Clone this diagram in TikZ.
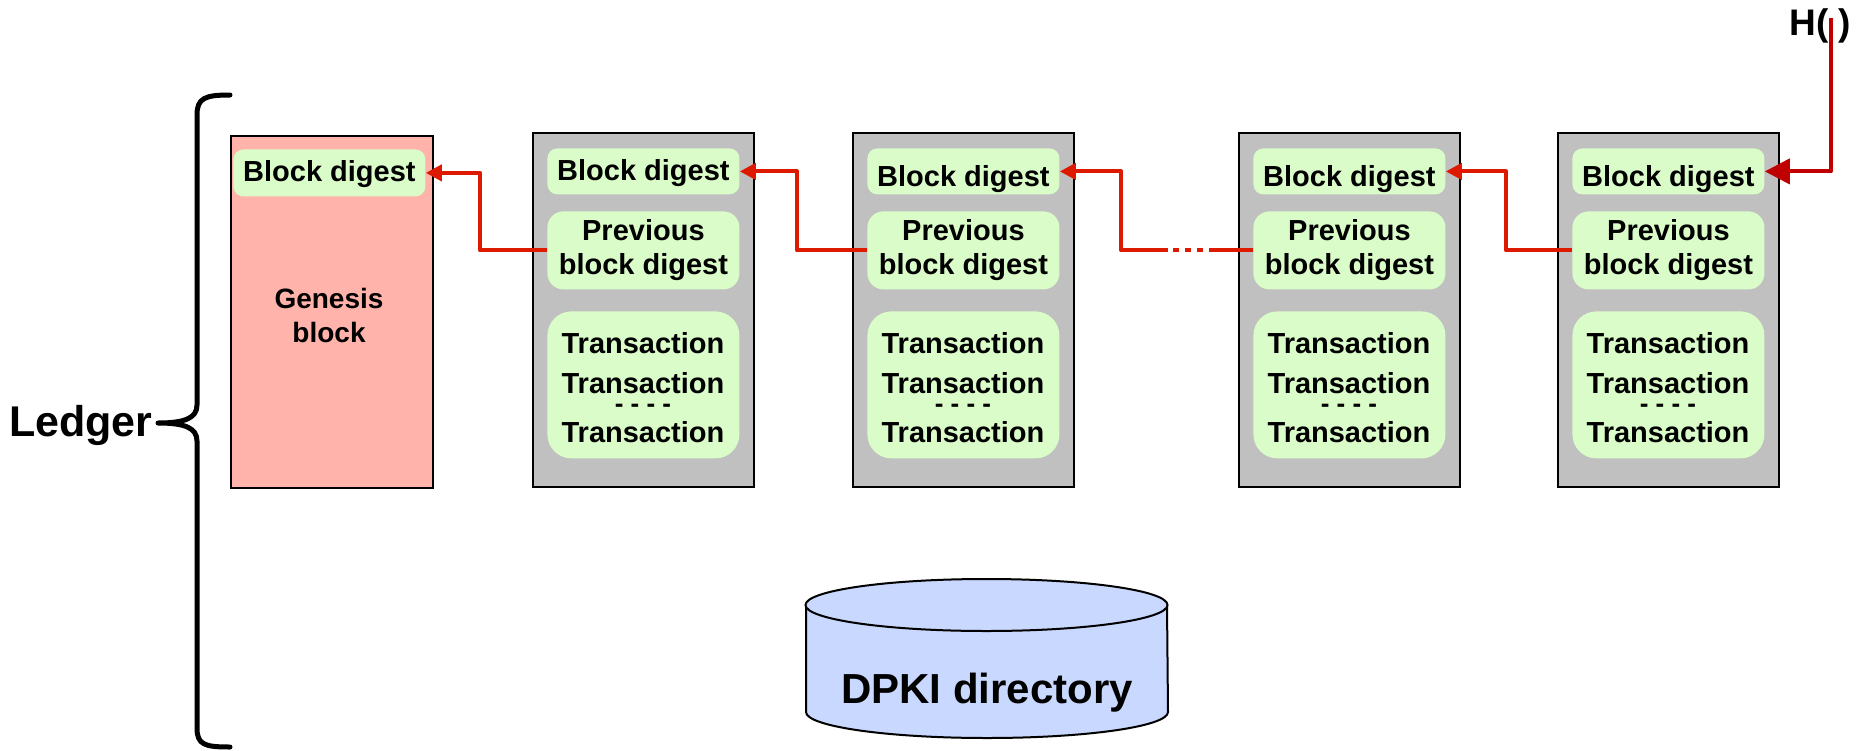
\documentclass[tikz,border=0pt]{standalone}
\usepackage{fontspec}
\setmainfont{Liberation Sans}
\usetikzlibrary{arrows.meta,calc}
\definecolor{graybg}{HTML}{C0C0C0}
\definecolor{pinkbg}{HTML}{FFB3AA}
\definecolor{greenbg}{HTML}{DAFCC8}
\definecolor{bluebg}{HTML}{C9D8FE}
\definecolor{arrred}{HTML}{DD1A00}
\definecolor{darkred}{HTML}{C00000}
% #1 name, #2 left edge, #3 text height of the digest text (sets its vertical place)
\newcommand{\mkblock}[3]{%
  \node[blockbox] (#1) at (#2,132) {};
  \node[digbox, text height=#3, text depth=0pt] (#1d) at (#2+15,148) {Block digest};
  \node[prevbox] (#1p) at (#2+15,211) {Previous\\block digest};
  \node[transbox] (#1t) at (#2+15,311) {};
  \node[txt] (#1ta) at (#2+111,353) {Transaction};
  \node[txt] (#1tb) at (#2+111,393) {Transaction};
  \node[txt, font=\bfseries\fontsize{13}{15}\selectfont] (#1tc) at (#2+111,412) {- - - -};
  \node[txt] (#1td) at (#2+111,442) {Transaction};
}
\begin{document}
\begin{tikzpicture}[x=0.5pt,y=-0.5pt,
  font=\bfseries\fontsize{14.5}{17}\selectfont,
  blockbox/.style={draw=black, line width=1pt, fill=graybg, inner sep=0pt,
    anchor=north west, minimum width=110.5pt, minimum height=177pt},
  genbox/.style={blockbox, fill=pinkbg, minimum width=101pt, minimum height=176pt},
  digbox/.style={fill=greenbg, rounded corners=5pt, inner sep=0pt, anchor=north west,
    minimum width=96pt, minimum height=23pt},
  prevbox/.style={digbox, minimum height=39pt, rounded corners=8pt, align=center},
  transbox/.style={digbox, minimum height=73.5pt, rounded corners=12pt},
  txt/.style={inner sep=0pt, anchor=base},
  redline/.style={draw=arrred, line width=2pt, line join=round},
  redarrow/.style={redline, -{Triangle[length=8pt,width=8pt]}},
  harrow/.style={draw=darkred, line width=2pt, line join=round, -{Triangle[length=12.5pt,width=12.5pt]}},
  bracestyle/.style={draw=black, line width=2.5pt, line cap=round, line join=round}
]
\useasboundingbox (0,0) rectangle (1864,750);

% Genesis block
\node[genbox] (g) at (230,135) {};
\node[digbox, minimum height=23.5pt, text height=8.6pt, text depth=0pt] (gd) at (233,149) {Block digest};
\node[align=center, inner sep=0pt, font=\bfseries\fontsize{14}{17}\selectfont] (gt) at (329,315) {Genesis\\block};

% Blocks
\mkblock{b2}{532}{9.4pt}
\mkblock{b3}{852}{14.6pt}
\mkblock{b4}{1238}{14.6pt}
\mkblock{b5}{1557}{14.6pt}

% Connectors
\draw[redarrow] (b2p.west) -- ++(-67,0) |- (gd.east);
\draw[redarrow] (b3p.west) -- ++(-70,0) |- (b2d.east);
\draw[redline] (b4p.west) -- ++(-38,0) coordinate (k1);
\draw[redline, dash pattern=on 3pt off 3pt] (k1) -- ++(-47,0) coordinate (k2);
\draw[redarrow] (k2) -- ++(-47,0) |- (b3d.east);
\draw[redarrow] (b5p.west) -- ++(-66,0) |- (b4d.east);

% H( )
\node[anchor=base west, inner sep=0pt, font=\bfseries\fontsize{18.5}{20}\selectfont] (h) at (1789,35) {H( )};
\coordinate (hs) at (1831,18);
\draw[harrow] (hs) |- (b5d.east);

% Ledger brace
\node[anchor=base east, inner sep=0pt, font=\bfseries\fontsize{21.5}{24}\selectfont] (ledger) at (153,436) {Ledger};
\draw[bracestyle] (230,95) .. controls (205,95) and (197,98) .. (197,115) -- (197,405)
  .. controls (197,418) and (185,423) .. (158,423)
  .. controls (185,423) and (197,428) .. (197,441) -- (197,728)
  .. controls (197,745) and (205,747) .. (230,747);

% DPKI cylinder
\path[fill=bluebg] (806,605) -- (806,712) arc[start angle=180, end angle=360, x radius=90.5pt, y radius=13pt] -- (1167,605) -- cycle;
\draw[line width=1pt] (806,605) -- (806,712) arc[start angle=180, end angle=360, x radius=90.5pt, y radius=13pt] -- (1167,605);
\draw[line width=1pt, fill=bluebg] (986.5,605) ellipse [x radius=90.5pt, y radius=13pt];
\node[anchor=base, inner sep=0pt, font=\bfseries\fontsize{21}{24}\selectfont] (dpki) at (987,703) {DPKI directory};
\end{tikzpicture}
\end{document}
